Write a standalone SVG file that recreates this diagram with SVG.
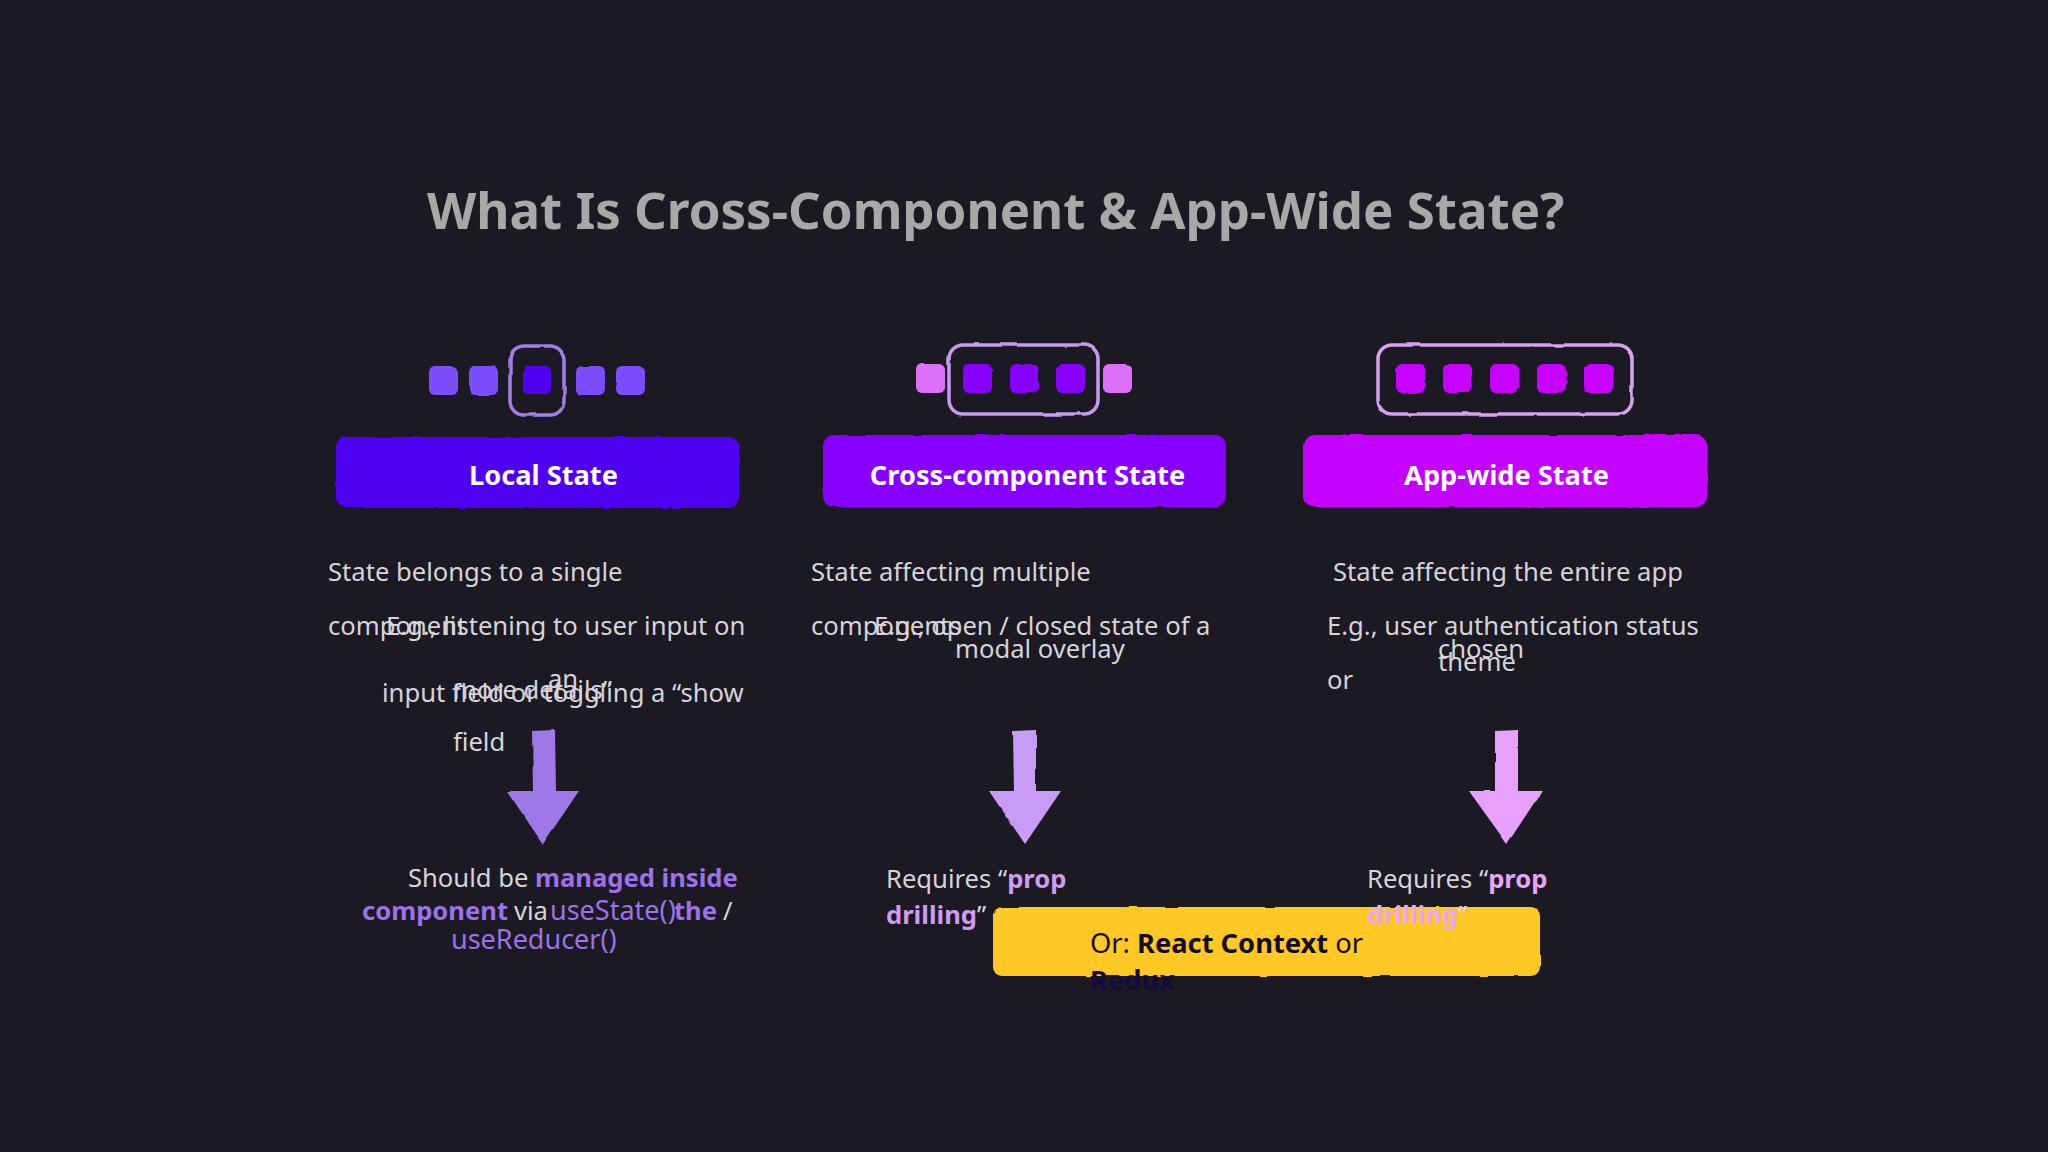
<svg xmlns="http://www.w3.org/2000/svg" width="2048" height="1152" viewBox="0 0 2048 1152">
<style>
text{font-family:"Noto Sans","Open Sans",sans-serif;white-space:pre}
.t{font-size:51px;font-weight:700;fill:#a8a8a8}
.l{font-size:27.2px;font-weight:700;fill:#fff;text-anchor:middle}
.b{font-size:25.6px;fill:#d6d4da}
.c{font-size:27px}
.pu{fill:#9d72e8}.pb{font-weight:700}
.pk{fill:#d09cf2}.pk2{fill:#e7a6f8}
.f{fill:none;stroke-width:3.5}
</style>
<defs>
<filter id="rough" x="-5%" y="-10%" width="110%" height="120%" color-interpolation-filters="sRGB"><feTurbulence type="fractalNoise" baseFrequency="0.04" numOctaves="3" seed="4"/><feDisplacementMap in="SourceGraphic" scale="2.5" xChannelSelector="R" yChannelSelector="G"/></filter>
</defs>
<rect width="2048" height="1152" fill="#1b1921"/>
<text class="t" x="427" y="229">What Is Cross-Component &amp; App-Wide State?</text>
<g id="connectors" filter="url(#rough)">
<path d="M532 731L555 730L556 791L579 791L543 844L507 791L533 791Z" fill="#9d78e6"/>
<path d="M1013 731L1036 730L1036 791L1061 791L1025 844L989 791L1014 791Z" fill="#c89cf6"/>
<path d="M1495 731L1518 730L1518 791L1542 791L1507 844L1469 791L1495 791Z" fill="#e7a0fb"/>
</g>
<g id="local-state">
<g filter="url(#rough)">
<rect x="510" y="346" width="54" height="69" rx="14" class="f" stroke="#a07de8"/>
<g fill="#7c4dff"><rect x="429" y="366" width="29" height="29" rx="6"/><rect x="469" y="366" width="29" height="29" rx="6"/><rect x="576" y="366" width="29" height="29" rx="6"/><rect x="616" y="366" width="29" height="29" rx="6"/></g>
<rect x="523" y="366" width="28" height="28" rx="5" fill="#5200f0"/>
<rect x="336" y="437" width="403" height="71" rx="11" fill="#5000f0"/>
</g>
<text class="l" x="543.500" y="485">Local State</text>
<text class="b" x="328" y="581">State belongs to a single</text>
<text class="b" x="328" y="635">component</text>
<text class="b" x="386" y="635">E.g., listening to user input on</text>
<text class="b" x="548" y="688">an</text>
<text class="b" x="382" y="702">input field or toggling a “show</text>
<text class="b" x="453" y="699">more details”</text>
<text class="b" x="453" y="751">field</text>
<text class="b" x="408" y="887">Should be <tspan class="pu pb">managed inside</tspan></text>
<text class="b pu pb" x="362" y="920">component</text>
<text class="b" x="514" y="920">via</text>
<text class="b c pu" x="550" y="920">useState()</text>
<text class="b pu pb" x="674" y="920">the</text>
<text class="b" x="723" y="920">/</text>
<text class="b c pu" x="451" y="949">useReducer()</text>
</g>
<g id="cross-component-state">
<g filter="url(#rough)">
<rect x="949" y="345" width="149" height="69" rx="14" class="f" stroke="#c79af2"/>
<g fill="#dc70f6"><rect x="916" y="364" width="29" height="29" rx="6"/><rect x="1103" y="364" width="29" height="29" rx="6"/></g>
<g fill="#8700ff"><rect x="963" y="364" width="29" height="29" rx="6"/><rect x="1010" y="364" width="29" height="29" rx="6"/><rect x="1056" y="364" width="29" height="29" rx="6"/></g>
<rect x="823" y="435" width="403" height="72" rx="11" fill="#8700ff"/>
</g>
<text class="l" x="1027.500" y="485">Cross-component State</text>
<text class="b" x="811" y="581">State affecting multiple</text>
<text class="b" x="811" y="635">components</text>
<text class="b" x="874" y="635">E.g., open / closed state of a</text>
<text class="b" x="955" y="658">modal overlay</text>
<text class="b" x="886" y="888">Requires “<tspan class="pk pb">prop</tspan></text>
<text class="b" x="886" y="924"><tspan class="pk pb">drilling</tspan>”</text>
</g>
<g id="app-wide-state">
<g filter="url(#rough)">
<rect x="1378" y="345" width="254" height="69" rx="14" class="f" stroke="#d8a0f0"/>
<g fill="#c800ff"><rect x="1396" y="364" width="29" height="29" rx="6"/><rect x="1443" y="364" width="29" height="29" rx="6"/><rect x="1490" y="364" width="29" height="29" rx="6"/><rect x="1537" y="364" width="29" height="29" rx="6"/><rect x="1584" y="364" width="29" height="29" rx="6"/></g>
<rect x="1303" y="435" width="404" height="72" rx="11" fill="#c400ff"/>
</g>
<text class="l" x="1506.500" y="485">App-wide State</text>
<text class="b" x="1333" y="581">State affecting the entire app</text>
<text class="b" x="1327" y="635">E.g., user authentication status</text>
<text class="b" x="1438" y="658">chosen</text>
<text class="b" x="1438" y="671">theme</text>
<text class="b" x="1327" y="689">or</text>
</g>
<g id="context-note">
<rect x="993" y="907" width="547" height="69" rx="9" fill="#ffc824" filter="url(#rough)"/>
<text class="b" x="1090" y="953" style="fill:#140a22;font-size:27.3px">Or: <tspan font-weight="700">React Context</tspan> or</text>
<text class="b" x="1090" y="990" font-weight="700" style="fill:#140a3c;font-size:27.3px">Redux</text>
</g>
<g id="app-wide-result">
<text class="b" x="1367" y="888">Requires “<tspan class="pk2 pb">prop</tspan></text>
<text class="b" x="1367" y="924" style="fill:#ecc9f0"><tspan class="pk2 pb">drilling</tspan>”</text>
</g>
</svg>
